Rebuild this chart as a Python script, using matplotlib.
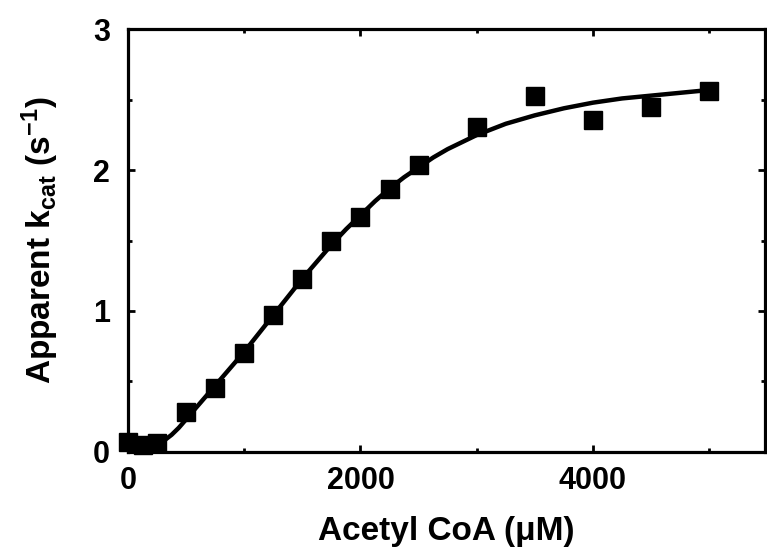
import numpy as np
import matplotlib
matplotlib.use("Agg")
import matplotlib.pyplot as plt
from matplotlib.ticker import MultipleLocator

plt.rcParams['font.family'] = ['Liberation Sans', 'DejaVu Sans']
plt.rcParams['font.weight'] = 'bold'
plt.rcParams['mathtext.fontset'] = 'custom'
plt.rcParams['mathtext.rm'] = 'Liberation Sans:bold'
plt.rcParams['mathtext.bf'] = 'Liberation Sans:bold'
plt.rcParams['mathtext.it'] = 'Liberation Sans:bold'
plt.rcParams['mathtext.default'] = 'bf'

# measured points (acetyl CoA in uM, apparent kcat in 1/s)
conc = [0, 125, 250, 500, 750, 1000, 1250, 1500, 1750, 2000, 2250, 2500, 3000, 3500, 4000, 4500, 5000]
kcat = [0.07, 0.05, 0.06, 0.28, 0.45, 0.70, 0.97, 1.23, 1.50, 1.67, 1.87, 2.04, 2.31, 2.53, 2.36, 2.45, 2.56]

# fitted curve
fit_x = [0, 125, 250, 312, 375, 437, 500, 562, 625, 750, 875, 1000, 1125, 1250, 1375, 1500,
         1625, 1750, 1875, 2000, 2125, 2250, 2375, 2500, 2625, 2750, 2875, 3000, 3125, 3250,
         3500, 3750, 4000, 4250, 4500, 4750, 5000]
fit_y = [0.05, 0.05, 0.06, 0.08, 0.12, 0.17, 0.23, 0.29, 0.35, 0.47, 0.59, 0.71, 0.84, 0.97, 1.10, 1.23,
         1.35, 1.47, 1.58, 1.68, 1.78, 1.87, 1.95, 2.02, 2.09, 2.15, 2.20, 2.25, 2.29, 2.33,
         2.39, 2.44, 2.48, 2.51, 2.53, 2.55, 2.57]

fig = plt.figure(figsize=(7.67, 5.52), dpi=100)
ax = fig.add_axes([0.1669, 0.1817, 0.8305, 0.7649])

ax.plot(fit_x, fit_y, color='black', lw=3.2, solid_capstyle='round', solid_joinstyle='round', zorder=2)
ax.plot(conc, kcat, 's', color='black', ms=12.5, zorder=3, clip_on=False)

ax.set_xlim(0, 5480)
ax.set_ylim(0, 3)
ax.xaxis.set_major_locator(MultipleLocator(2000))
ax.xaxis.set_minor_locator(MultipleLocator(1000))
ax.yaxis.set_major_locator(MultipleLocator(1))
ax.yaxis.set_minor_locator(MultipleLocator(0.5))

for s in ax.spines.values():
    s.set_linewidth(2.3)
ax.tick_params(which='both', direction='in', top=True, right=True, width=2)
ax.tick_params(which='major', length=5, labelsize=22)
ax.tick_params(axis='x', which='major', pad=10)
ax.tick_params(axis='y', which='major', pad=13)
ax.tick_params(which='minor', length=3)
for lab in ax.get_xticklabels() + ax.get_yticklabels():
    lab.set_fontweight('bold')

ax.set_xlabel('Acetyl CoA (\u03bcM)', fontsize=24, fontweight='bold', labelpad=15)
ax.set_ylabel(r'Apparent k$_{cat}$ (s$^{-1}$)', fontsize=24, fontweight='bold', labelpad=23)

fig.savefig('out.png', dpi=100)
